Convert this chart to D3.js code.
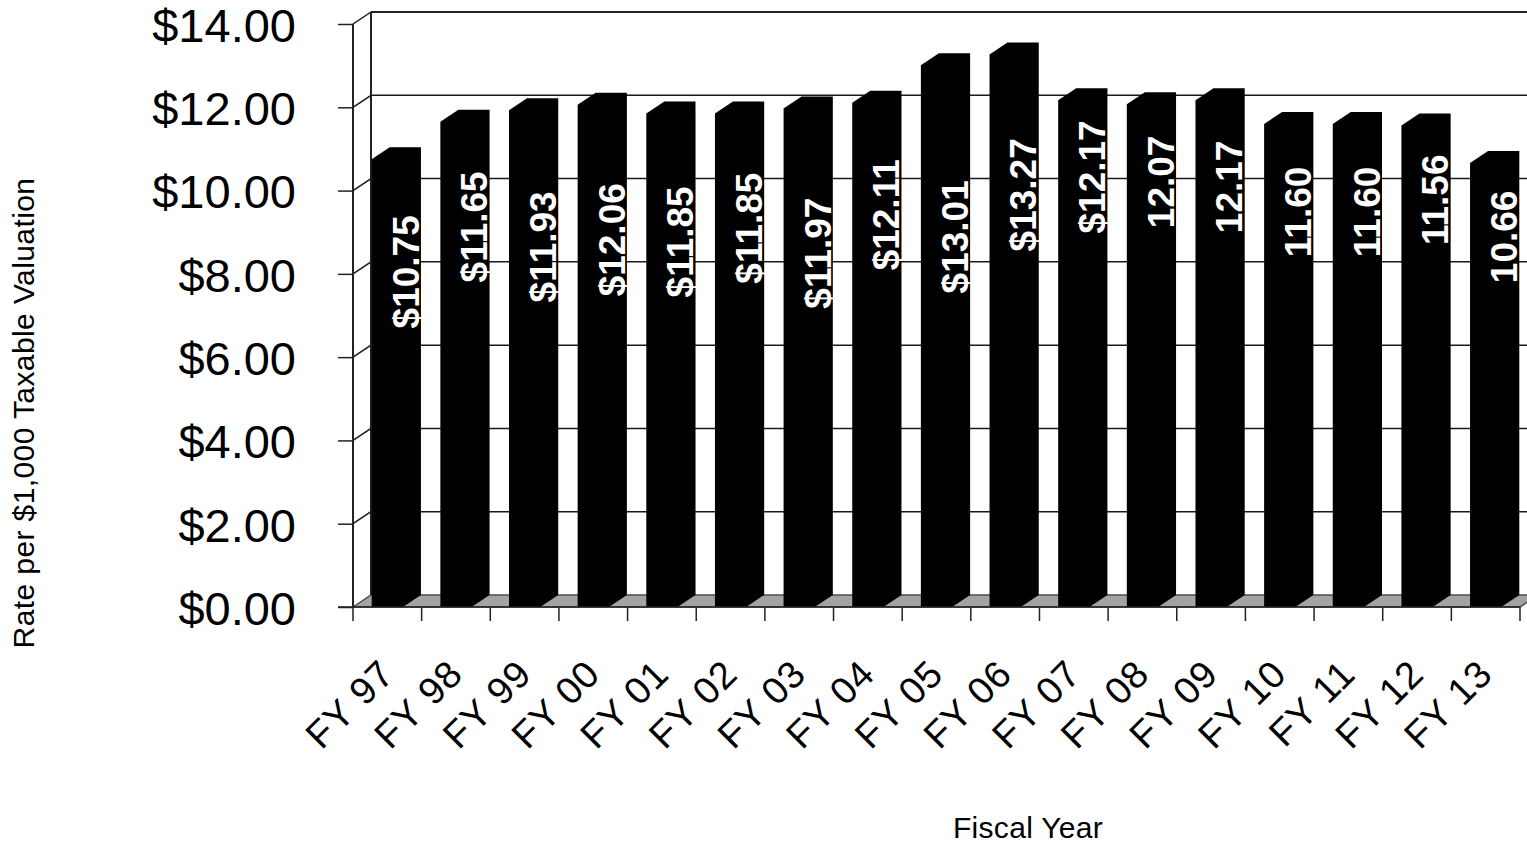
<!DOCTYPE html>
<html>
<head>
<meta charset="utf-8">
<script src="https://cdn.jsdelivr.net/npm/d3@7/dist/d3.min.js"></script>
<style>
  html, body { margin: 0; padding: 0; background: #fff; }
  svg { display: block; }
  text { font-family: "Liberation Sans", Arial, Helvetica, sans-serif; }
</style>
</head>
<body>
<svg id="chart" width="1527" height="846"></svg>
<script>
// Property tax rate per $1,000 of taxable valuation, by fiscal year
const categories = ["FY 97", "FY 98", "FY 99", "FY 00", "FY 01", "FY 02", "FY 03", "FY 04", "FY 05",
                    "FY 06", "FY 07", "FY 08", "FY 09", "FY 10", "FY 11", "FY 12", "FY 13"];
const rates = [10.75, 11.65, 11.93, 12.06, 11.85, 11.85, 11.97, 12.11, 13.01,
               13.27, 12.17, 12.07, 12.17, 11.60, 11.60, 11.56, 10.66];
const rateLabels = ["$10.75", "$11.65", "$11.93", "$12.06", "$11.85", "$11.85", "$11.97", "$12.11", "$13.01",
                    "$13.27", "$12.17", "12.07", "12.17", "11.60", "11.60", "11.56", "10.66"];
// height (in rate units) at which each value label is centred
const labelAt = [7.76, 8.84, 8.36, 8.53, 8.48, 8.81, 8.21, 9.13, 8.60,
                 9.61, 10.04, 9.92, 9.80, 9.20, 9.20, 9.49, 8.60];
const yTicks = [0, 2, 4, 6, 8, 10, 12, 14];

const svg = d3.select("#chart");
const W = 1527;

// front plane of the 3-D box, and the depth offset to the back wall
const x = d3.scaleBand().domain(categories).range([353, 1520]).padding(0);
const y = d3.scaleLinear().domain([0, 14]).range([607, 24]);
const DX = 18, DY = 12;
const left = x.range()[0], right = x.range()[1];
const y0 = y(0), yTop = y(14);
const barW = x.step() * 0.455;

// floor
svg.append("path")
  .attr("d", `M${left},${y0} L${left + DX},${y0 - DY} L${right + DX},${y0 - DY} L${right},${y0} Z`)
  .attr("fill", "#a3a3a3").attr("stroke", "#4d4d4d").attr("stroke-width", 1.5);

// back-wall gridlines and the left-wall diagonals
const grid = svg.append("g");
grid.selectAll("line.back").data(yTicks.filter(d => d > 0)).join("line")
  .attr("class", "back")
  .attr("x1", left + DX).attr("x2", W)
  .attr("y1", d => y(d) - DY).attr("y2", d => y(d) - DY)
  .attr("stroke", "#1a1a1a").attr("stroke-width", 1.5);
grid.selectAll("line.side").data(yTicks.filter(d => d > 0)).join("line")
  .attr("class", "side")
  .attr("x1", left).attr("x2", left + DX)
  .attr("y1", d => y(d)).attr("y2", d => y(d) - DY)
  .attr("stroke", "#1a1a1a").attr("stroke-width", 1.5);

// wall edges
svg.append("line").attr("x1", left).attr("x2", left).attr("y1", yTop).attr("y2", y0)
  .attr("stroke", "#222").attr("stroke-width", 2);
svg.append("line").attr("x1", left + DX).attr("x2", left + DX).attr("y1", yTop - DY).attr("y2", y0 - DY)
  .attr("stroke", "#222").attr("stroke-width", 2);
svg.append("line").attr("x1", left + DX).attr("x2", W).attr("y1", yTop - DY).attr("y2", yTop - DY)
  .attr("stroke", "#222").attr("stroke-width", 2);

// columns: front face, top face and right side as one black solid
svg.append("g").selectAll("path").data(categories).join("path")
  .attr("d", (c, i) => {
    const x0 = x(c) + (x.step() - barW) / 2, x1 = x0 + barW;
    const yT = y(rates[i]);
    return `M${x0},${y0} L${x0},${yT} L${x0 + DX},${yT - DY} L${x1 + DX},${yT - DY} ` +
           `L${x1 + DX},${y0 - DY} L${x1},${y0} Z`;
  })
  .attr("fill", "#000");

// value labels
svg.append("g").selectAll("text").data(categories).join("text")
  .attr("transform", (c, i) => `translate(${x(c) + x.step() / 2 + DX},${y(labelAt[i]) - DY}) rotate(-90)`)
  .attr("text-anchor", "middle").attr("dy", "0.36em")
  .attr("fill", "#fff").attr("font-weight", "bold").attr("font-size", 37)
  .text((c, i) => rateLabels[i]);

// y axis ticks and labels
const yAxis = d3.axisLeft(y).tickValues(yTicks).tickFormat(d3.format("$.2f"))
  .tickSize(15).tickPadding(42);
const gy = svg.append("g").attr("transform", `translate(${left},0)`).call(yAxis);
gy.select(".domain").remove();
gy.selectAll(".tick line").attr("stroke", "#222").attr("stroke-width", 1.5);
gy.selectAll(".tick text").attr("font-size", 47).attr("fill", "#000").attr("dy", "0.37em")
  .attr("font-family", "'Liberation Sans', Arial, sans-serif");

// x axis: ticks at category boundaries, slanted labels
const bounds = categories.map(c => x(c)).concat([right]);
svg.append("g").selectAll("line").data(bounds).join("line")
  .attr("x1", d => d).attr("x2", d => d).attr("y1", y0).attr("y2", y0 + 14)
  .attr("stroke", "#222").attr("stroke-width", 1.5);
svg.append("line").attr("x1", left - 15).attr("x2", right).attr("y1", y0).attr("y2", y0)
  .attr("stroke", "#222").attr("stroke-width", 1.5);

svg.append("g").selectAll("text").data(categories).join("text")
  .attr("transform", c => `translate(${x(c) + x.step() / 2 + 9},676) rotate(-45)`)
  .attr("text-anchor", "end").attr("font-size", 38).attr("letter-spacing", 1)
  .attr("fill", "#000")
  .text(c => c);

// axis titles
svg.append("text")
  .attr("transform", "translate(34,413) rotate(-90)")
  .attr("text-anchor", "middle").attr("font-size", 30).attr("letter-spacing", 0.4)
  .attr("fill", "#000")
  .text("Rate per $1,000 Taxable Valuation");
svg.append("text")
  .attr("x", 1028).attr("y", 838)
  .attr("text-anchor", "middle").attr("font-size", 30).attr("letter-spacing", 0.3)
  .attr("fill", "#000")
  .text("Fiscal Year");
</script>
</body>
</html>
